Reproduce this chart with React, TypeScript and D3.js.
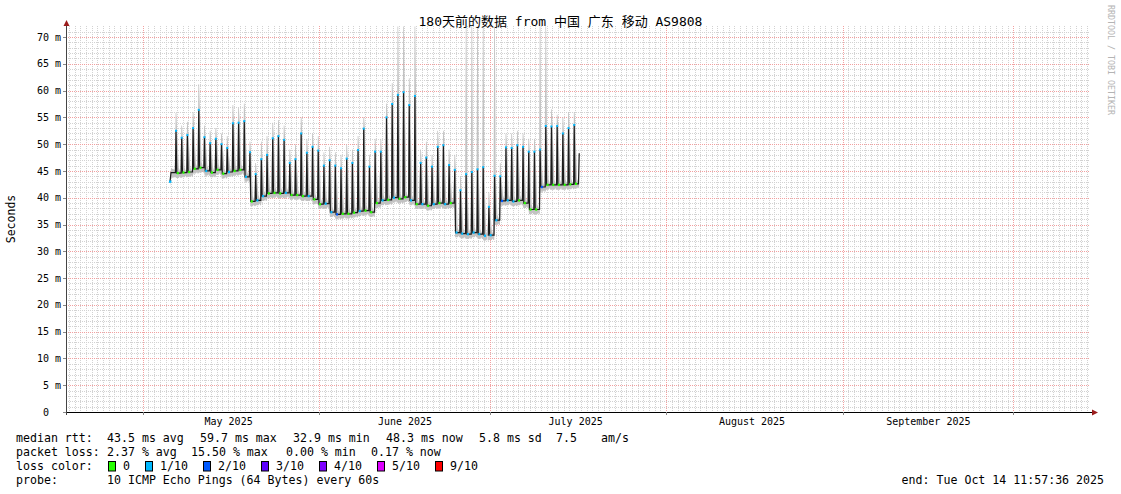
import * as d3 from 'd3';

const W = 1121;
const H = 494;
const DAY = 86400000;

// graph window: 180 days ending Tue Oct 14 11:57:36 2025
const CHART_START = Date.UTC(2025, 3, 17, 11, 57, 36);
const CHART_END = Date.UTC(2025, 9, 14, 11, 57, 36);

// median rtt series (ms). one evening spike per day, first one on May 6
const SERIES_START = Date.UTC(2025, 4, 5, 18, 40);
const FIRST_PEAK = Date.UTC(2025, 4, 6, 20, 0);
const startRtt = 43.0;
const startLow = 44.7;
const nowRtt = 48.3;
const gapAfterDay = 54; // no data for a few hours after this day's spike

const peakRtt = [
  52.5, 51.2, 51.7, 53.0, 56.4, 51.3, 50.2, 51.0, 50.0, 49.3,
  53.9, 54.0, 54.3, 48.5, 44.4, 47.2, 48.0, 51.1, 51.5, 50.8,
  46.5, 47.2, 52.0, 48.4, 49.5, 48.8, 46.0, 47.0, 46.0, 45.5,
  47.3, 46.5, 48.9, 52.9, 45.8, 48.6, 48.6, 55.0, 57.5, 59.2,
  59.7, 57.3, 59.0, 46.5, 47.5, 45.8, 49.5, 49.8, 46.1, 45.2,
  41.4, 44.4, 44.8, 45.3, 45.7, 38.3, 44.1, 44.0, 49.4, 49.3,
  49.8, 49.5, 48.6, 48.6, 49.0, 53.4, 53.3, 53.4, 52.0, 53.0,
  53.6,
];

// baseline after each day's spike
const lowRtt = [
  44.6, 44.7, 44.8, 45.4, 45.6, 45.0, 44.7, 45.2, 44.5, 44.8,
  45.0, 45.2, 43.9, 39.3, 39.5, 40.3, 40.8, 40.9, 40.8, 40.9,
  40.5, 40.5, 40.3, 40.3, 39.7, 38.8, 38.9, 37.3, 36.9, 37.0,
  37.0, 37.2, 37.5, 37.6, 37.3, 39.0, 39.5, 39.6, 40.0, 39.8,
  40.1, 39.5, 38.8, 38.8, 38.5, 38.8, 39.0, 38.8, 39.0, 33.5,
  33.3, 33.2, 33.5, 33.2, 32.9, 33.0, 35.8, 39.4, 39.5, 39.3,
  39.5, 39.0, 37.8, 37.8, 42.0, 42.4, 42.4, 42.4, 42.4, 42.5,
  42.6,
];

// highest ping of the smoke around each spike (72 = off the top)
const smokeTop = [
  55.8, 53.5, 54.2, 56.0, 61.2, 53.5, 52.5, 53.0, 52.0, 51.5,
  57.3, 56.8, 57.6, 50.5, 46.5, 50.5, 51.5, 54.0, 54.5, 53.5,
  49.0, 50.0, 55.0, 51.0, 52.0, 51.5, 48.5, 49.5, 48.5, 48.0,
  50.0, 49.0, 51.5, 55.0, 48.0, 51.0, 51.0, 57.6, 61.4, 72,
  72, 62.3, 72, 49.0, 50.5, 48.0, 52.5, 52.5, 49.0, 48.0,
  44.0, 72, 72, 72, 72, 41.0, 72, 46.5, 52.0, 52.0,
  52.5, 52.0, 51.0, 51.0, 72, 72, 56.5, 55.5, 55.0, 56.0,
  56.0,
];

// loss level (tenths) on the baseline after each spike
const lowLoss = [
  0, 0, 0, 0, 0, 1, 0, 0, 0, 1,
  0, 0, 1, 0, 1, 1, 0, 0, 0, 1,
  0, 0, 0, 1, 0, 0, 1, 1, 2, 0,
  0, 0, 1, 0, 0, 0, 1, 0, 1, 0,
  0, 1, 0, 1, 0, 1, 0, 1, 0, 1,
  1, 1, 1, 1, 1, 1, 1, 2, 1, 1,
  0, 0, 0, 0, 2, 0, 0, 0, 0, 0,
  0,
];

const lossLabels = ['0', '1/10', '2/10', '3/10', '4/10', '5/10', '9/10'];
const lossColors = ['#26ff00', '#00b8ff', '#0059ff', '#5e00ff', '#7e00ff', '#dd00ff', '#ff0000'];

const yTicks = d3.range(0, 71, 5);
const monthLabels = ['May 2025', 'June 2025', 'July 2025', 'August 2025', 'September 2025'];

const statsRtt = [
  { text: 'median rtt:', x: 16 },
  { text: '43.5 ms avg', x: 107 },
  { text: '59.7 ms max', x: 200 },
  { text: '32.9 ms min', x: 293 },
  { text: '48.3 ms now', x: 386 },
  { text: '5.8 ms sd', x: 479 },
  { text: '7.5', x: 556 },
  { text: 'am/s', x: 601 },
];
const statsLoss = [
  { text: 'packet loss:', x: 16 },
  { text: '2.37 % avg', x: 107 },
  { text: '15.50 % max', x: 191 },
  { text: '0.00 % min', x: 286 },
  { text: '0.17 % now', x: 371 },
];
const swatchX = [108, 145, 203, 261, 319, 377, 435];

const MONO = '"DejaVu Sans Mono", "Noto Sans CJK SC", monospace';

type Pt = { t: number; v: number | null; top?: number; bot?: number };

const App = () => {
  const plotL = 66;
  const plotR = 1090;
  const plotT = 26.3;
  const plotB = 412;

  const x = d3.scaleUtc().domain([CHART_START, CHART_END]).range([plotL, plotR]);
  const y = d3.scaleLinear().domain([0, 72]).range([plotB, plotT]);

  // median line points
  const med: Pt[] = [
    { t: SERIES_START, v: startRtt },
    { t: SERIES_START + 0.18 * DAY, v: startLow },
  ];
  const smoke: Pt[] = [
    { t: SERIES_START, v: startRtt, top: startRtt + 0.8, bot: startRtt - 1 },
    { t: SERIES_START + 0.18 * DAY, v: startLow, top: startLow + 0.8, bot: startLow - 1 },
  ];
  const lastDay = peakRtt.length - 1;
  peakRtt.forEach((pk, i) => {
    const t = FIRST_PEAK + i * DAY;
    const prev = i === 0 ? startLow : lowRtt[i - 1];
    const low = lowRtt[i];
    if (i === gapAfterDay + 1) {
      med.push({ t: t - 0.4 * DAY, v: null });
      smoke.push({ t: t - 0.4 * DAY, v: null });
    }
    med.push({ t: t - 0.1 * DAY, v: prev }, { t, v: pk }, { t: t + 0.14 * DAY, v: low });
    smoke.push(
      { t: t - 0.22 * DAY, v: prev, top: prev + 0.5, bot: prev - 0.9 },
      { t: t - 0.06 * DAY, v: prev, top: smokeTop[i], bot: prev - 0.9 },
      { t: t + 0.06 * DAY, v: low, top: smokeTop[i], bot: low - 0.9 },
      { t: t + 0.2 * DAY, v: low, top: pk, bot: low - 0.9 },
      { t: t + 0.5 * DAY, v: low, top: low + 1.0, bot: low - 0.9 },
      { t: t + 0.7 * DAY, v: low, top: low + 0.3, bot: low - 0.6 }
    );
  });
  const lastT = FIRST_PEAK + lastDay * DAY;
  med.push({ t: lastT + 0.75 * DAY, v: lowRtt[lastDay] }, { t: lastT + 0.88 * DAY, v: nowRtt });
  smoke.push({ t: lastT + 0.88 * DAY, v: nowRtt, top: nowRtt + 1.5, bot: lowRtt[lastDay] - 1 });

  const line = d3
    .line<Pt>()
    .defined((p) => p.v != null)
    .x((p) => x(p.t))
    .y((p) => y(p.v as number));
  const area = d3
    .area<Pt>()
    .defined((p) => p.v != null)
    .x((p) => x(p.t))
    .y0((p) => y(p.bot as number))
    .y1((p) => y(p.top as number));

  const days = d3.utcDay.range(new Date(CHART_START), new Date(CHART_END));
  const months = d3.utcMonth.range(new Date(CHART_START), new Date(CHART_END));
  const crisp = (v: number) => Math.round(v) + 0.5;

  return (
    <svg width={W} height={H} style={{ display: 'block', position: 'absolute', left: 0, top: 0, background: '#fff' }}>
      <defs>
        <clipPath id="plot">
          <rect x={plotL} y={plotT} width={plotR - plotL} height={plotB - plotT} />
        </clipPath>
      </defs>
      <rect width={W} height={H} fill="#fff" />

      {/* minor grid */}
      <g stroke="#d2d2d2" strokeDasharray="1,1" shapeRendering="crispEdges">
        {d3.range(1, 72).filter((v) => v % 5 !== 0).map((v) => (
          <line key={'h' + v} x1={plotL} x2={plotR} y1={crisp(y(v))} y2={crisp(y(v))} />
        ))}
        {days.map((d) => (
          <line key={'v' + +d} x1={crisp(x(d))} x2={crisp(x(d))} y1={plotT} y2={plotB} />
        ))}
      </g>
      {/* major grid */}
      <g stroke="#f2a0a0" strokeDasharray="1,1" shapeRendering="crispEdges">
        {yTicks.filter((v) => v > 0).map((v) => (
          <line key={'H' + v} x1={plotL} x2={plotR} y1={crisp(y(v))} y2={crisp(y(v))} />
        ))}
        {months.map((d) => (
          <line key={'V' + +d} x1={crisp(x(d))} x2={crisp(x(d))} y1={plotT} y2={plotB} />
        ))}
      </g>

      {/* smoke and median */}
      <g clipPath="url(#plot)">
        <path d={area(smoke) || ''} fill="#c2c2c2" />
        <path d={line(med) || ''} fill="none" stroke="#1c1c1c" strokeWidth={1.2} />
        {lowRtt.map((v, i) => {
          const t = FIRST_PEAK + i * DAY;
          return (
            <rect
              key={'l' + i}
              x={x(t + 0.14 * DAY)}
              y={y(v) - 1.2}
              width={2}
              height={2.4}
              fill={lossColors[lowLoss[i]]}
            />
          );
        })}
        {peakRtt.map((v, i) => (
          <rect
            key={'p' + i}
            x={x(FIRST_PEAK + i * DAY) - 1}
            y={y(v) - 1}
            width={2}
            height={2}
            fill={lossColors[1]}
          />
        ))}
        <rect x={x(SERIES_START) - 1} y={y(startRtt) - 1.2} width={2.4} height={2.4} fill={lossColors[1]} />
      </g>

      {/* axes */}
      <line x1={plotL - 3} x2={1093} y1={plotB + 0.5} y2={plotB + 0.5} stroke="#000" />
      <line x1={plotL + 0.5} x2={plotL + 0.5} y1={plotB + 3} y2={26} stroke="#444" />
      <path d={`M${plotL + 0.5},20 L${plotL - 2.5},26 L${plotL + 3.5},26 Z`} fill="#9b1c1c" />
      <path d={`M1098,${plotB + 0.5} L1092,${plotB - 2.5} L1092,${plotB + 3.5} Z`} fill="#9b1c1c" />
      <g stroke="#888" shapeRendering="crispEdges">
        {months.map((d) => (
          <line key={'t' + +d} x1={crisp(x(d))} x2={crisp(x(d))} y1={plotB} y2={plotB + 3} />
        ))}
        {yTicks.map((v) => (
          <line key={'yt' + v} x1={plotL - 3} x2={plotL} y1={crisp(y(v))} y2={crisp(y(v))} />
        ))}
      </g>

      {/* tick labels */}
      <g fontFamily={MONO} fontSize={10} fill="#000" style={{ whiteSpace: 'pre' }}>
        {yTicks.map((v) => (
          <text key={'yl' + v} x={37} y={y(v) + 3.6} xmlSpace="preserve">
            {v === 0 ? ' 0' : `${v < 10 ? ' ' : ''}${v} m`}
          </text>
        ))}
        {monthLabels.map((m, i) => (
          <text key={m} x={x(Date.UTC(2025, 4 + i, 16, 2))} y={424.5} textAnchor="middle">
            {m}
          </text>
        ))}
      </g>

      {/* titles */}
      <text x={560.5} y={25.5} textAnchor="middle" fontFamily={MONO} fontSize={13} fill="#000">
        180天前的数据 from 中国 广东 移动 AS9808
      </text>
      <text
        transform="translate(14.5,219) rotate(-90)"
        textAnchor="middle"
        fontFamily={MONO}
        fontSize={11.5}
        fill="#000"
      >
        Seconds
      </text>
      <text
        transform="translate(1108,5) rotate(90)"
        fontFamily={MONO}
        fontSize={8.3}
        fill="#b4b4b4"
      >
        RRDTOOL / TOBI OETIKER
      </text>

      {/* legend */}
      <g fontFamily={MONO} fontSize={11.6} fill="#000">
        {statsRtt.map((s) => (
          <text key={s.text} x={s.x} y={442}>{s.text}</text>
        ))}
        {statsLoss.map((s) => (
          <text key={s.text} x={s.x} y={456}>{s.text}</text>
        ))}
        <text x={16} y={470}>loss color:</text>
        {lossLabels.map((l, i) => (
          <g key={l}>
            <rect x={swatchX[i] + 0.5} y={461.5} width={7} height={9.5} fill={lossColors[i]} stroke="#000" />
            <text x={swatchX[i] + 15} y={470}>{l}</text>
          </g>
        ))}
        <text x={16} y={484}>probe:</text>
        <text x={107} y={484}>10 ICMP Echo Pings (64 Bytes) every 60s</text>
        <text x={1104} y={484} textAnchor="end">end: Tue Oct 14 11:57:36 2025</text>
      </g>
    </svg>
  );
};

export default App;
